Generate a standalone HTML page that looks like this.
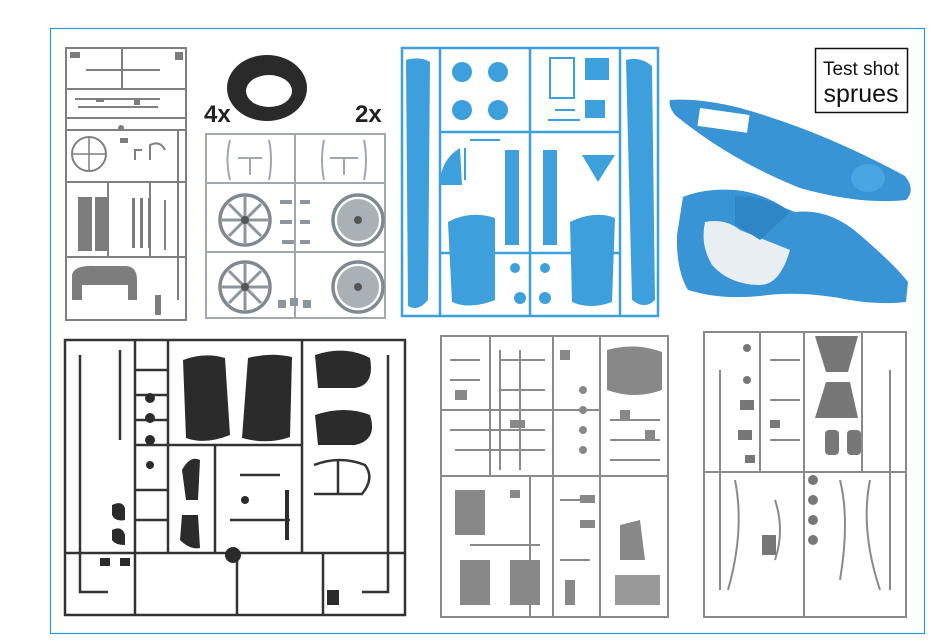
<!DOCTYPE html>
<html><head><meta charset="utf-8"><style>
html,body{margin:0;padding:0;background:#fff;}
svg{display:block}
</style></head><body>
<svg width="952" height="643" viewBox="0 0 952 643" xmlns="http://www.w3.org/2000/svg" font-family="Liberation Sans, sans-serif">
<rect x="0" y="0" width="952" height="643" fill="#fff"/>
<rect x="50.5" y="28.5" width="874" height="605" fill="none" stroke="#2b9ad6" stroke-width="1.2"/>

<!-- Sprue 1 grey -->
<g stroke="#808080" fill="none" stroke-width="2">
<path d="M66 48 H186 V320 H66 Z"/>
<path d="M66 89 H186 M66 118 H186 M66 130 H186 M66 182 H186 M66 257 H186"/>
<path d="M108 182 V257 M150 182 V257 M122 48 V89"/>
<path d="M86 70 H160 M75 99 H160 M78 107 H158 M80 118 H166"/>
<circle cx="89" cy="154" r="17"/><path d="M72 154 H106 M89 137 V171" stroke-width="1.5"/>
<path d="M135 160 V150 H142 M150 160 V145 Q160 140 165 150 M178 130 V300 M165 200 V250"/>
</g>
<g fill="#7d7d7d">
<rect x="78" y="197" width="14" height="54"/><rect x="95" y="197" width="14" height="54"/>
<rect x="132" y="198" width="3" height="50"/><rect x="140" y="198" width="3" height="50"/><rect x="148" y="198" width="3" height="50"/>
<path d="M72 300 V275 Q74 265 95 266 H125 Q137 266 137 280 V300 H128 V285 H82 V300 Z"/>
<rect x="96" y="98" width="8" height="4"/><circle cx="121" cy="128" r="3"/>
<rect x="134" y="99" width="6" height="6"/><rect x="70" y="52" width="10" height="6"/><rect x="175" y="52" width="8" height="8"/>
<rect x="120" y="138" width="8" height="5"/><rect x="155" y="295" width="6" height="20"/>
</g>

<!-- Tire -->
<ellipse cx="267" cy="88" rx="40" ry="33" fill="#2a2a2a"/>
<ellipse cx="269" cy="91" rx="23" ry="16" fill="#fff"/>
<text x="204" y="122" font-size="24" font-weight="bold" fill="#222">4x</text>
<text x="355" y="122" font-size="24" font-weight="bold" fill="#222">2x</text>

<!-- Sprue 2 light grey -->
<g stroke="#a0a8ad" fill="none" stroke-width="2">
<path d="M206 134 H385 V318 H206 Z"/>
<path d="M206 183 H385 M206 252 H385 M295 134 V318"/>
<path d="M230 140 Q225 160 230 180 M269 140 Q273 160 269 180 M324 140 Q320 160 324 180 M364 140 Q368 160 364 180"/>
<path d="M238 158 H262 M250 158 V175 M330 158 H358 M344 158 V175"/>
</g>
<g stroke="#7f8a90" fill="none" stroke-width="3.5">
<circle cx="245" cy="220" r="25"/><circle cx="358" cy="220" r="25"/>
<circle cx="245" cy="287" r="25"/><circle cx="358" cy="287" r="25"/>
</g>
<g stroke="#8c969c" stroke-width="3">
<path d="M245 197 V243 M222 220 H268 M229 204 L261 236 M261 204 L229 236"/>
<path d="M245 264 V310 M222 287 H268 M229 271 L261 303 M261 271 L229 303"/>
</g>
<circle cx="358" cy="220" r="21" fill="#a9b1b6"/><circle cx="358" cy="287" r="21" fill="#a9b1b6"/>
<g fill="#555"><circle cx="245" cy="220" r="4"/><circle cx="358" cy="220" r="4"/><circle cx="245" cy="287" r="4"/><circle cx="358" cy="287" r="4"/></g>
<g fill="#8c969c"><rect x="280" y="200" width="12" height="4"/><rect x="280" y="220" width="12" height="4"/><rect x="282" y="240" width="12" height="4"/><rect x="278" y="300" width="8" height="8"/><rect x="303" y="300" width="8" height="8"/>
<rect x="300" y="200" width="10" height="4"/><rect x="300" y="220" width="10" height="4"/><rect x="300" y="240" width="10" height="4"/><rect x="290" y="298" width="8" height="8"/></g>

<!-- Blue sprue -->
<g stroke="#3d9fdc" fill="none" stroke-width="2.5">
<path d="M402 48 H658 V316 H402 Z"/>
<path d="M530 48 V316 M440 48 V316 M620 48 V316 M440 132 H620 M440 253 H620"/>
</g>
<g fill="#3d9fdc">
<path d="M406 60 Q420 56 430 62 L428 300 Q418 312 408 306 Z"/>
<path d="M626 60 Q640 56 652 66 L655 300 Q645 310 632 300 Z"/>
<circle cx="462" cy="72" r="10"/><circle cx="498" cy="72" r="10"/><circle cx="462" cy="110" r="10"/><circle cx="498" cy="110" r="10"/>
<rect x="585" y="58" width="24" height="22"/><rect x="585" y="100" width="20" height="18"/>
<path d="M460 148 Q440 160 440 185 H462 Z"/>
<rect x="505" y="150" width="14" height="95"/><rect x="543" y="150" width="14" height="95"/>
<path d="M582 155 H615 L598 182 Z"/>
<path d="M448 222 Q470 210 495 218 L495 300 Q470 310 452 302 Z"/>
<path d="M570 222 Q595 210 615 218 L612 302 Q590 310 572 302 Z"/>
<circle cx="515" cy="268" r="5"/><circle cx="545" cy="268" r="5"/><circle cx="520" cy="298" r="6"/><circle cx="545" cy="298" r="6"/>
</g>
<g stroke="#3d9fdc" fill="none" stroke-width="2"><rect x="550" y="58" width="24" height="40"/><path d="M555 110 H575 M548 120 H580 M465 148 V180 M470 140 H500"/></g>

<!-- Blue body parts -->
<path d="M670 100 Q700 98 740 108 Q820 130 905 176 Q916 190 906 200 Q860 205 800 188 Q730 160 675 115 Q668 106 670 100 Z" fill="#3894d4"/>
<rect x="700" y="108" width="50" height="18" fill="#fff" transform="rotate(8 700 108)"/>
<ellipse cx="868" cy="178" rx="17" ry="14" fill="#4aa6e2"/>
<path d="M683 197 Q705 188 735 190 Q760 192 785 208 L795 212 Q830 208 860 235 Q895 265 908 282 L906 302 Q880 305 850 300 Q800 290 760 296 Q720 300 688 290 Q676 270 677 235 Z" fill="#3894d4"/>
<path d="M705 222 Q725 218 740 230 L790 250 Q780 285 760 285 Q730 285 712 265 Q700 245 705 222 Z" fill="#e8eef2"/>
<path d="M735 196 Q765 195 790 212 L760 240 Q745 230 735 225 Z" fill="#2e86c4"/>

<!-- Test shot label -->
<rect x="815.5" y="48.5" width="92" height="64" fill="#fff" stroke="#111" stroke-width="1.5"/>
<text x="861" y="75" font-size="19" text-anchor="middle" fill="#111" font-family="Liberation Sans Narrow, Liberation Sans, sans-serif">Test shot</text>
<text x="861" y="102" font-size="25" text-anchor="middle" fill="#111" font-family="Liberation Sans Narrow, Liberation Sans, sans-serif">sprues</text>

<!-- Black sprue -->
<g stroke="#333" fill="none" stroke-width="2.5">
<path d="M65 340 H405 V615 H65 Z"/>
<path d="M65 553 H405 M135 340 V615 M168 340 V553 M302 340 V553 M168 445 H302 M215 445 V553 M237 553 V615 M323 553 V615"/>
<path d="M80 355 V592 H108 M388 355 V592 H362"/>
<path d="M120 350 V440"/>
<path d="M314 465 Q340 455 365 465 Q375 478 362 494 H314 M338 460 V494"/>
<path d="M135 370 H168 M135 395 H168 M135 420 H168 M135 445 H168 M135 490 H168 M135 520 H168 M240 475 H280 M230 520 H290"/>
</g>
<g fill="#2b2b2b">
<path d="M183 360 Q205 352 225 358 L230 435 Q205 445 186 438 Z"/>
<path d="M248 358 Q270 352 292 357 L290 437 Q268 445 242 438 Z"/>
<path d="M315 355 Q345 345 370 358 Q375 385 355 388 H318 Z"/>
<path d="M315 415 Q345 405 370 415 Q378 440 355 445 H318 Z"/>
<circle cx="150" cy="398" r="5"/><circle cx="150" cy="418" r="5"/><circle cx="150" cy="440" r="5"/><circle cx="150" cy="465" r="4"/>
<path d="M112 505 Q122 500 125 508 L125 520 Q115 522 112 515 Z"/><path d="M112 530 Q122 525 125 535 L125 545 Q115 545 112 540 Z"/>
<path d="M182 470 Q190 455 200 460 L198 500 H186 Z"/><path d="M182 515 H198 L200 548 Q190 550 180 540 Z"/>
<rect x="285" y="490" width="4" height="50"/><rect x="327" y="590" width="12" height="15"/>
<circle cx="233" cy="555" r="8"/><circle cx="245" cy="500" r="4"/><rect x="100" y="558" width="10" height="8"/><rect x="120" y="558" width="10" height="8"/>
</g>

<!-- Grey sprue 3 -->
<g stroke="#8a8a8a" fill="none" stroke-width="2">
<path d="M441 336 H668 V617 H441 Z"/>
<path d="M441 476 H668 M553 336 V617 M600 336 V476 M490 336 V476 M441 410 H600 M530 476 V617 M600 476 V617"/>
<path d="M450 360 H480 M450 380 H480 M500 360 H545 M500 390 H545 M450 430 H545 M560 500 H580 M610 420 H660 M610 440 H660 M455 450 H545 M500 350 V470 M520 350 V470 M610 460 H660 M560 560 H590 M470 545 H540"/>
</g>
<g fill="#888">
<path d="M607 350 Q635 342 662 352 V390 Q635 400 607 390 Z"/>
<circle cx="583" cy="390" r="4"/><circle cx="583" cy="410" r="4"/><circle cx="583" cy="430" r="4"/><circle cx="583" cy="450" r="4"/>
<rect x="455" y="490" width="30" height="45"/><rect x="460" y="560" width="30" height="45"/><rect x="510" y="560" width="30" height="45"/>
<path d="M620 525 L640 520 L645 560 H620 Z"/><rect x="615" y="575" width="45" height="30" fill="#999"/>
<rect x="580" y="495" width="15" height="8"/><rect x="580" y="520" width="15" height="8"/>
<rect x="455" y="390" width="12" height="10"/><rect x="510" y="420" width="15" height="8"/><rect x="560" y="350" width="10" height="10"/><rect x="620" y="410" width="10" height="10"/><rect x="645" y="430" width="10" height="10"/>
<rect x="510" y="490" width="10" height="8"/><rect x="565" y="580" width="10" height="25"/>
</g>

<!-- Grey sprue 4 -->
<g stroke="#8a8a8a" fill="none" stroke-width="2">
<path d="M704 332 H906 V617 H704 Z"/>
<path d="M704 472 H906 M804 332 V617 M760 332 V472 M862 332 V472"/>
<path d="M720 370 V590 M890 370 V590 M735 480 Q745 530 728 590 M870 480 Q860 530 880 590"/>
<path d="M770 360 H800 M770 400 H800 M770 440 H800 M775 500 Q785 530 775 560 M840 480 Q850 520 840 580"/>
</g>
<g fill="#777">
<path d="M815 336 H858 L848 372 H826 Z"/><path d="M826 382 H850 L858 418 H815 Z"/>
<rect x="825" y="430" width="14" height="25" rx="4"/><rect x="847" y="430" width="14" height="25" rx="4"/>
<circle cx="747" cy="348" r="4"/><circle cx="747" cy="380" r="4"/><circle cx="813" cy="480" r="5"/><circle cx="813" cy="500" r="5"/><circle cx="813" cy="520" r="5"/><circle cx="813" cy="540" r="5"/>
<rect x="740" y="400" width="14" height="10"/><rect x="738" y="430" width="14" height="10"/>
<rect x="762" y="535" width="14" height="20"/><rect x="770" y="420" width="10" height="8"/><rect x="745" y="455" width="10" height="8"/>
</g>
</svg>
</body></html>
